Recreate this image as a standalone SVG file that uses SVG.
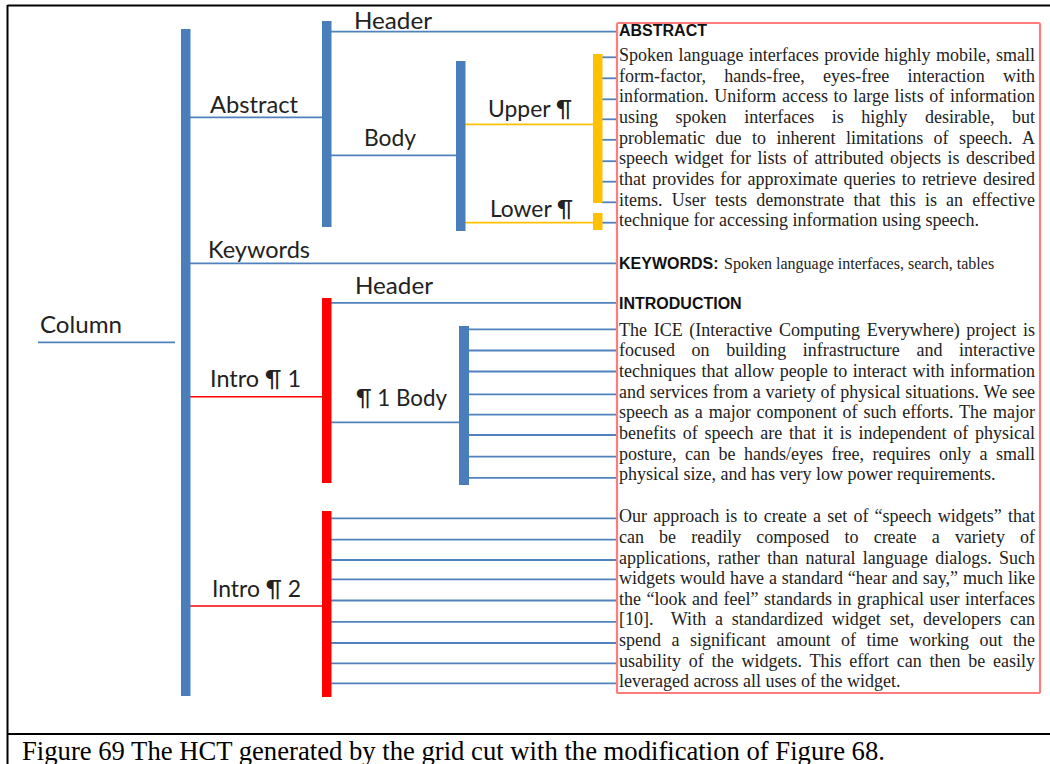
<svg xmlns="http://www.w3.org/2000/svg" width="1050" height="764" viewBox="0 0 1050 764">
<style>
.frame{stroke:#000;stroke-width:2;fill:none}
.bb{fill:#4a7ebb}
.yb{fill:#ffc000}
.rb{fill:#ff0000}
.cb{stroke:#4f81bd;stroke-width:1.8;fill:none}
.cy{stroke:#ffc000;stroke-width:1.8;fill:none}
.cr{stroke:#ff0000;stroke-width:1.6;fill:none}
.lbl{font-family:Lato,"Open Sans","Liberation Sans",sans-serif;font-size:23px;fill:#222}
.hd{font-family:"Liberation Sans",Arial,sans-serif;font-weight:bold;font-size:16px;fill:#111}
.tx{font-family:"Liberation Serif","Times New Roman",serif;font-size:18px;fill:#222}
.kw{font-family:"Liberation Serif","Times New Roman",serif;font-size:16px;fill:#222}
.cap{font-family:"Liberation Serif","Times New Roman",serif;font-size:26.67px;fill:#000}
</style>
<rect width="1050" height="764" fill="#fff"/>
<g id="frame">
<line class="frame" x1="7.5" y1="5.5" x2="1050" y2="5.5"/>
<line class="frame" x1="7.5" y1="5" x2="7.5" y2="764"/>
<line class="frame" x1="7" y1="734" x2="1050" y2="734"/>
<text class="cap" x="22" y="760">Figure 69 The HCT generated by the grid cut with the modification of Figure 68.</text>
</g>
<g id="connectors">
<line class="cb" x1="38" y1="342.3" x2="175" y2="342.3"/>
<line class="cb" x1="190" y1="117.3" x2="322" y2="117.3"/>
<line class="cb" x1="190" y1="263.3" x2="617" y2="263.3"/>
<line class="cr" x1="190" y1="396.7" x2="322" y2="396.7"/>
<line class="cr" x1="187" y1="606" x2="322" y2="606"/>
<line class="cb" x1="331" y1="31.7" x2="617" y2="31.7"/>
<line class="cb" x1="331" y1="155.3" x2="456" y2="155.3"/>
<line class="cy" x1="465" y1="124.3" x2="593" y2="124.3"/>
<line class="cy" x1="465" y1="222.7" x2="593" y2="222.7"/>
<line class="cb" x1="331" y1="302.8" x2="617" y2="302.8"/>
<line class="cb" x1="331" y1="422.3" x2="459" y2="422.3"/>
<g id="abstract-ticks">
<line class="cb" x1="602" y1="57.3" x2="617" y2="57.3"/>
<line class="cb" x1="602" y1="78.3" x2="617" y2="78.3"/>
<line class="cb" x1="602" y1="99.3" x2="617" y2="99.3"/>
<line class="cb" x1="602" y1="119.3" x2="617" y2="119.3"/>
<line class="cb" x1="602" y1="139.8" x2="617" y2="139.8"/>
<line class="cb" x1="602" y1="161.2" x2="617" y2="161.2"/>
<line class="cb" x1="602" y1="181.7" x2="617" y2="181.7"/>
<line class="cb" x1="602" y1="202.3" x2="617" y2="202.3"/>
<line class="cb" x1="602" y1="222.7" x2="617" y2="222.7"/>
</g>
<g id="intro1-ticks">
<line class="cb" x1="469" y1="329.3" x2="617" y2="329.3"/>
<line class="cb" x1="469" y1="350.5" x2="617" y2="350.5"/>
<line class="cb" x1="469" y1="371.5" x2="617" y2="371.5"/>
<line class="cb" x1="469" y1="394.3" x2="617" y2="394.3"/>
<line class="cb" x1="469" y1="414.7" x2="617" y2="414.7"/>
<line class="cb" x1="469" y1="435" x2="617" y2="435"/>
<line class="cb" x1="469" y1="456.7" x2="617" y2="456.7"/>
<line class="cb" x1="469" y1="477.8" x2="617" y2="477.8"/>
</g>
<g id="intro2-ticks">
<line class="cb" x1="331" y1="518.3" x2="617" y2="518.3"/>
<line class="cb" x1="331" y1="539.6" x2="617" y2="539.6"/>
<line class="cb" x1="331" y1="560" x2="617" y2="560"/>
<line class="cb" x1="331" y1="579.3" x2="617" y2="579.3"/>
<line class="cb" x1="331" y1="600.5" x2="617" y2="600.5"/>
<line class="cb" x1="331" y1="621.8" x2="617" y2="621.8"/>
<line class="cb" x1="331" y1="643" x2="617" y2="643"/>
<line class="cb" x1="331" y1="663.3" x2="617" y2="663.3"/>
<line class="cb" x1="331" y1="683.3" x2="617" y2="683.3"/>
</g>
</g>
<g id="column">
<rect class="bb" x="181" y="29" width="9.5" height="667"/>
<text class="lbl" x="40" y="333" textLength="82" lengthAdjust="spacingAndGlyphs">Column</text>
</g>
<g id="abstract">
<rect class="bb" x="322" y="21" width="9.5" height="206"/>
<text class="lbl" x="210" y="113" textLength="88" lengthAdjust="spacingAndGlyphs">Abstract</text>
</g>
<g id="abstract-header">
<text class="lbl" x="354" y="29" textLength="78" lengthAdjust="spacingAndGlyphs">Header</text>
</g>
<g id="abstract-body">
<rect class="bb" x="456" y="61" width="9.5" height="170"/>
<text class="lbl" x="364" y="146" textLength="52" lengthAdjust="spacingAndGlyphs">Body</text>
</g>
<g id="upper-para">
<rect class="yb" x="593" y="54" width="9.5" height="149"/>
<text class="lbl" x="488" y="117" textLength="84" lengthAdjust="spacingAndGlyphs">Upper ¶</text>
</g>
<g id="lower-para">
<rect class="yb" x="593" y="213" width="9.5" height="17"/>
<text class="lbl" x="490" y="217" textLength="83" lengthAdjust="spacingAndGlyphs">Lower ¶</text>
</g>
<g id="keywords">
<text class="lbl" x="208" y="258" textLength="102" lengthAdjust="spacingAndGlyphs">Keywords</text>
</g>
<g id="intro1">
<rect class="rb" x="322" y="298" width="9.5" height="185"/>
<text class="lbl" x="210" y="387" textLength="91" lengthAdjust="spacingAndGlyphs">Intro ¶ 1</text>
</g>
<g id="intro-header">
<text class="lbl" x="355" y="294" textLength="78" lengthAdjust="spacingAndGlyphs">Header</text>
</g>
<g id="intro1-body">
<rect class="bb" x="459" y="326" width="10" height="159"/>
<text class="lbl" x="356" y="406" textLength="91" lengthAdjust="spacingAndGlyphs">¶ 1 Body</text>
</g>
<g id="intro2">
<rect class="rb" x="322" y="511" width="9.5" height="186"/>
<text class="lbl" x="212" y="597" textLength="89" lengthAdjust="spacingAndGlyphs">Intro ¶ 2</text>
</g>
<g id="page">
<rect x="617" y="23" width="423" height="670" rx="1.5" fill="none" stroke="#ff7c7c" stroke-width="2.2"/>
<text class="hd" x="619" y="36">ABSTRACT</text>
<text class="tx" x="619" y="61" word-spacing="0.93" textLength="416" lengthAdjust="spacing">Spoken language interfaces provide highly mobile, small</text>
<text class="tx" x="619" y="81.7" word-spacing="13.8" textLength="416" lengthAdjust="spacing">form-factor, hands-free, eyes-free interaction with</text>
<text class="tx" x="619" y="102.4" word-spacing="1.15" textLength="416" lengthAdjust="spacing">information. Uniform access to large lists of information</text>
<text class="tx" x="619" y="123" word-spacing="13.09" textLength="416" lengthAdjust="spacing">using spoken interfaces is highly desirable, but</text>
<text class="tx" x="619" y="143.7" word-spacing="5.86" textLength="416" lengthAdjust="spacing">problematic due to inherent limitations of speech. A</text>
<text class="tx" x="619" y="164.4" word-spacing="2.01" textLength="416" lengthAdjust="spacing">speech widget for lists of attributed objects is described</text>
<text class="tx" x="619" y="185.1" word-spacing="1.66" textLength="416" lengthAdjust="spacing">that provides for approximate queries to retrieve desired</text>
<text class="tx" x="619" y="205.8" word-spacing="4.69" textLength="416" lengthAdjust="spacing">items. User tests demonstrate that this is an effective</text>
<text class="tx" x="619" y="226.4">technique for accessing information using speech.</text>
<text x="619" y="269.3"><tspan class="hd">KEYWORDS:</tspan><tspan class="kw" x="724">Spoken language interfaces, search, tables</tspan></text>
<text class="hd" x="619" y="309.3">INTRODUCTION</text>
<text class="tx" x="619" y="335.6" word-spacing="2.18" textLength="416" lengthAdjust="spacing">The ICE (Interactive Computing Everywhere) project is</text>
<text class="tx" x="619" y="356.2" word-spacing="12.12" textLength="416" lengthAdjust="spacing">focused on building infrastructure and interactive</text>
<text class="tx" x="619" y="376.9" word-spacing="1.07" textLength="416" lengthAdjust="spacing">techniques that allow people to interact with information</text>
<text class="tx" x="619" y="397.5" word-spacing="0.23" textLength="416" lengthAdjust="spacing">and services from a variety of physical situations. We see</text>
<text class="tx" x="619" y="418.2" word-spacing="1.34" textLength="416" lengthAdjust="spacing">speech as a major component of such efforts. The major</text>
<text class="tx" x="619" y="438.8" word-spacing="2.29" textLength="416" lengthAdjust="spacing">benefits of speech are that it is independent of physical</text>
<text class="tx" x="619" y="459.5" word-spacing="4.01" textLength="416" lengthAdjust="spacing">posture, can be hands/eyes free, requires only a small</text>
<text class="tx" x="619" y="480.1">physical size, and has very low power requirements.</text>
<text class="tx" x="619" y="522.3" word-spacing="1.71" textLength="416" lengthAdjust="spacing">Our approach is to create a set of “speech widgets” that</text>
<text class="tx" x="619" y="542.9" word-spacing="10.64" textLength="416" lengthAdjust="spacing">can be readily composed to create a variety of</text>
<text class="tx" x="619" y="563.5" word-spacing="2.85" textLength="416" lengthAdjust="spacing">applications, rather than natural language dialogs. Such</text>
<text class="tx" x="619" y="584.1" word-spacing="0.34" textLength="416" lengthAdjust="spacing">widgets would have a standard “hear and say,” much like</text>
<text class="tx" x="619" y="604.7" word-spacing="1.01" textLength="416" lengthAdjust="spacing">the “look and feel” standards in graphical user interfaces</text>
<text class="tx" x="619" y="625.3" word-spacing="4.26" textLength="416" lengthAdjust="spacing" xml:space="preserve">[10].  With a standardized widget set, developers can</text>
<text class="tx" x="619" y="645.9" word-spacing="6" textLength="416" lengthAdjust="spacing">spend a significant amount of time working out the</text>
<text class="tx" x="619" y="666.5" word-spacing="3.23" textLength="416" lengthAdjust="spacing">usability of the widgets. This effort can then be easily</text>
<text class="tx" x="619" y="687.1">leveraged across all uses of the widget.</text>
</g>
</svg>
